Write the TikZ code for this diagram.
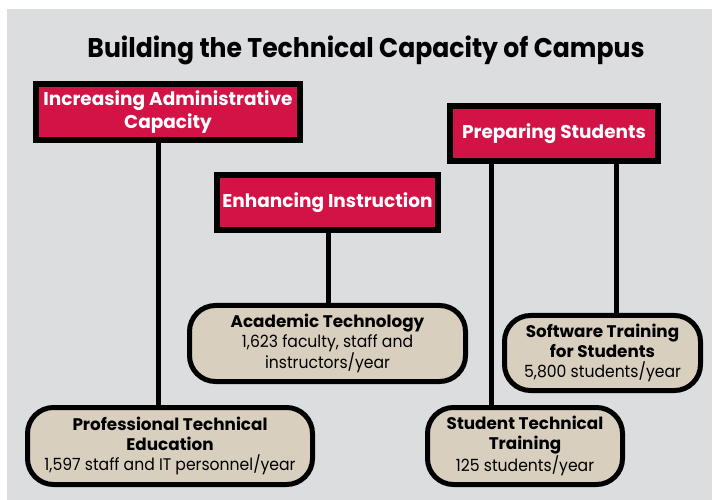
\documentclass[tikz,border=0pt]{standalone}
\usepackage{fontspec}
\setmainfont{Poppins}
\newfontfamily\narrowfont{Poppins}[FakeStretch=0.93]
\definecolor{crimson}{RGB}{211,18,69}
\definecolor{sand}{RGB}{216,207,190}
\definecolor{panel}{RGB}{220,221,223}
\pgfdeclarelayer{bglayer}
\pgfdeclarelayer{nodelayer}
\pgfdeclarelayer{edgelayer}
\pgfsetlayers{bglayer,edgelayer,nodelayer,main}
\tikzstyle{red box}=[fill=crimson, draw=black, shape=rectangle, line width=6pt, inner sep=0pt, align=center, text=white, font=\bfseries\fontsize{18.5}{23}\selectfont]
\tikzstyle{sand box}=[fill=sand, draw=black, shape=rectangle, rounded corners=26pt, line width=5pt, inner sep=0pt, align=center, font=\fontsize{16.8}{20}\selectfont]
\tikzstyle{title}=[anchor=base, inner sep=0pt, font=\narrowfont\bfseries\fontsize{27}{30}\selectfont]
\tikzstyle{none}=[fill=none, draw=none, shape=circle, scale=0]
\tikzstyle{link}=[draw=black, line width=5pt]

\begin{document}
\begin{tikzpicture}[x=1pt, y=-1pt]
	\useasboundingbox (0, 0) rectangle (716, 500);
	\begin{pgfonlayer}{bglayer}
		\fill [panel] (7, 9) rectangle (712, 500);
	\end{pgfonlayer}
	\begin{pgfonlayer}{nodelayer}
		\node [style=title] (7) at (366, 58) {Building the Technical Capacity of Campus};
		\node [style=red box, minimum width=264pt, minimum height=56pt] (0) at (168, 112) {Increasing Administrative\\Capacity};
		\node [style=red box, minimum width=221pt, minimum height=55pt] (1) at (327.5, 202.5) {Enhancing Instruction};
		\node [style=red box, minimum width=208pt, minimum height=55pt] (2) at (554, 133.5) {Preparing Students};
		\node [style=sand box, minimum width=285pt, minimum height=77pt] (3) at (170, 446) {{\bfseries Professional Technical}\\{\bfseries Education}\\{\narrowfont 1,597 staff and IT personnel/year}};
		\node [style=sand box, minimum width=276pt, minimum height=76pt] (4) at (327.5, 343.5) {{\bfseries Academic Technology}\\{\narrowfont 1,623 faculty, staff and}\\{\narrowfont instructors/year}};
		\node [style=sand box, minimum width=195pt, minimum height=77pt] (5) at (525, 446) {{\bfseries Student Technical}\\{\bfseries Training}\\{\narrowfont 125 students/year}};
		\node [style=sand box, minimum width=196pt, minimum height=75pt] (6) at (602.5, 353) {{\bfseries Software Training}\\{\bfseries for Students}\\{\narrowfont 5,800 students/year}};
		\node [style=none] (8) at (158, 0) {};
		\node [style=none] (9) at (328, 0) {};
		\node [style=none] (10) at (491, 0) {};
		\node [style=none] (11) at (616, 0) {};
	\end{pgfonlayer}
	\begin{pgfonlayer}{edgelayer}
		\draw [style=link] (0 -| 8) to (3 -| 8);
		\draw [style=link] (1 -| 9) to (4 -| 9);
		\draw [style=link] (2 -| 10) to (5 -| 10);
		\draw [style=link] (2 -| 11) to (6 -| 11);
	\end{pgfonlayer}
\end{tikzpicture}
\end{document}
